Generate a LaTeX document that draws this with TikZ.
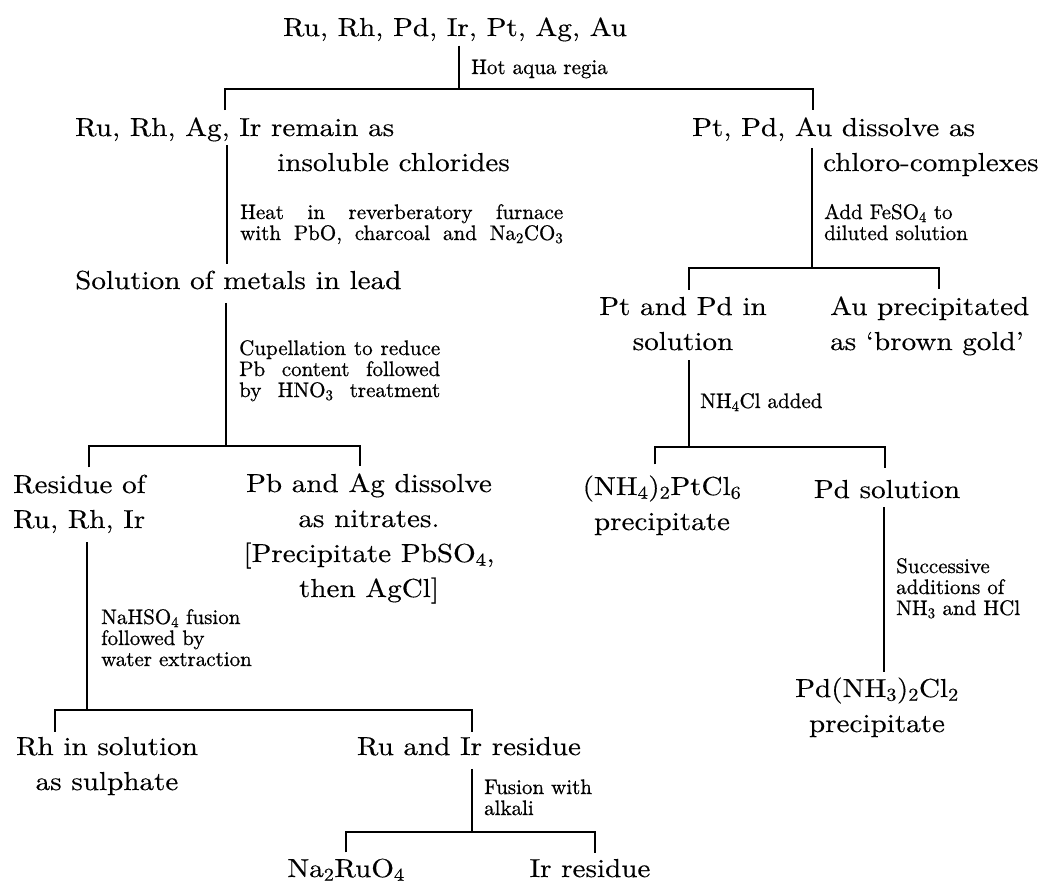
\documentclass[tikz,border=0pt]{standalone}
\usepackage{fontspec}
\setmainfont{lmroman10-regular.otf}[FakeStretch=1.12, FakeBold=0.3]
\newfontfamily\labfont{lmroman10-regular.otf}[FakeBold=0.7]
\begin{document}
\begin{tikzpicture}[x=1pt,y=-1pt,
  main/.style={font=\fontsize{26}{35}\selectfont, inner sep=2pt},
  lab/.style={font=\labfont\fontsize{21}{21}\selectfont, inner sep=0pt, align=left, anchor=base west},
  conn/.style={line width=1.9pt, draw=black}]
\useasboundingbox[fill=white] (0,0) rectangle (1052,883);

% ---- nodes (anchor=base is the baseline of the last line) ----
\node[main, anchor=base] (top) at (455,36) {Ru, Rh, Pd, Ir, Pt, Ag, Au};
\node[main, anchor=base west, align=left] (A) at (73,171) {Ru, Rh, Ag, Ir remain as\\\hspace*{202pt}insoluble chlorides};
\node[main, anchor=base west, align=left] (B) at (690,171) {Pt, Pd, Au dissolve as\\\hspace*{131pt}chloro-complexes};
\node[main, anchor=base west] (C) at (73,289) {Solution of metals in lead};
\node[main, anchor=base, align=center] (D) at (683,350) {Pt and Pd in\\solution};
\node[main, anchor=base west, align=left] (E) at (828,350) {Au precipitated\\as `brown gold'};
\node[main, anchor=base, align=center] (F) at (662,530) {(NH\textsubscript{4})\textsubscript{2}PtCl\textsubscript{6}\\precipitate};
\node[main, anchor=base] (G) at (887,498) {Pd solution};
\node[main, anchor=base, align=center] (H) at (877,732) {Pd(NH\textsubscript{3})\textsubscript{2}Cl\textsubscript{2}\\precipitate};
\node[main, anchor=base west, align=left] (I) at (11,528) {Residue of\\Ru, Rh, Ir};
\node[main, anchor=base, align=center] (J) at (369,597) {Pb and Ag dissolve\\as nitrates.\\{[}Precipitate PbSO\textsubscript{4},\\then AgCl{]}};
\node[main, anchor=base, align=center] (K) at (107,790) {Rh in solution\\as sulphate};
\node[main, anchor=base] (L) at (469,755) {Ru and Ir residue};
\node[main, anchor=base] (M) at (346,877) {Na\textsubscript{2}RuO\textsubscript{4}};
\node[main, anchor=base] (N) at (590,877) {Ir residue};

% ---- labels ----
\node[lab] (l1) at (471,74) {Hot aqua regia};
\node[lab] (l2) at (240,240) {\makebox[323pt][s]{Heat in reverberatory furnace}\\\makebox[323pt][s]{with PbO, charcoal and Na\textsubscript{2}CO\textsubscript{3}}};
\node[lab] (l3) at (824,240) {Add FeSO\textsubscript{4} to\\diluted solution};
\node[lab] (l4) at (239,397) {\makebox[201pt][s]{Cupellation to reduce}\\\makebox[201pt][s]{Pb content followed}\\\makebox[201pt][s]{by HNO\textsubscript{3} treatment}};
\node[lab] (l5) at (700,408) {NH\textsubscript{4}Cl added};
\node[lab] (l6) at (896,615) {Successive\\additions of\\NH\textsubscript{3} and HCl};
\node[lab] (l7) at (101,666) {NaHSO\textsubscript{4} fusion\\followed by\\water extraction};
\node[lab] (l8) at (484,815) {Fusion with\\alkali};

% ---- junction coordinates ----
\coordinate (j0) at (459,89);
\coordinate (tA) at (225,0);
\coordinate (tB) at (813,0);
\coordinate (aD) at (227,145);
\coordinate (bD) at (812,148);
\coordinate (j1) at (812,268);
\coordinate (tD) at (689,0);
\coordinate (tE) at (939,0);
\coordinate (j2) at (226,446);
\coordinate (tI) at (89,0);
\coordinate (tJ) at (360,0);
\coordinate (j3) at (689,447);
\coordinate (tF) at (655,0);
\coordinate (tG) at (885,0);
\coordinate (gx) at (884,0);
\coordinate (j4) at (87,710);
\coordinate (tK) at (55,0);
\coordinate (tL) at (472,0);
\coordinate (j5) at (472,832);
\coordinate (tM) at (346,0);
\coordinate (tN) at (595,0);

% ---- connectors ----
\draw[conn, shorten <=2pt] (top.south -| j0) -- (j0);
\draw[conn, shorten <=5pt, shorten >=5pt] (tA |- A.north) |- (j0) -| (tB |- B.north);

\draw[conn, shorten >=4pt] (aD) -- (aD |- C.north);

\draw[conn] (bD) -- (j1);
\draw[conn, shorten <=5pt, shorten >=5pt] (tD |- D.north) |- (j1) -| (tE |- E.north);

\draw[conn, shorten <=11pt] (C.south -| j2) -- (j2);
\draw[conn, shorten <=5pt, shorten >=5pt] (tI |- I.north) |- (j2) -| (tJ |- J.north);

\draw[conn, shorten <=8pt] (D.south -| j3) -- (j3);
\draw[conn, shorten <=9pt, shorten >=10pt] (tF |- F.north) |- (j3) -| (tG |- G.north);

\draw[conn, shorten <=7pt, shorten >=3pt] (gx |- G.south) -- (gx |- H.north);

\draw[conn, shorten <=7pt] (I.south -| j4) -- (j4);
\draw[conn, shorten <=3pt, shorten >=3pt] (tK |- K.north) |- (j4) -| (tL |- L.north);

\draw[conn, shorten <=11pt] (L.south -| j5) -- (j5);
\draw[conn, shorten <=4pt, shorten >=4pt] (tM |- M.north) |- (j5) -| (tN |- N.north);
\end{tikzpicture}
\end{document}
